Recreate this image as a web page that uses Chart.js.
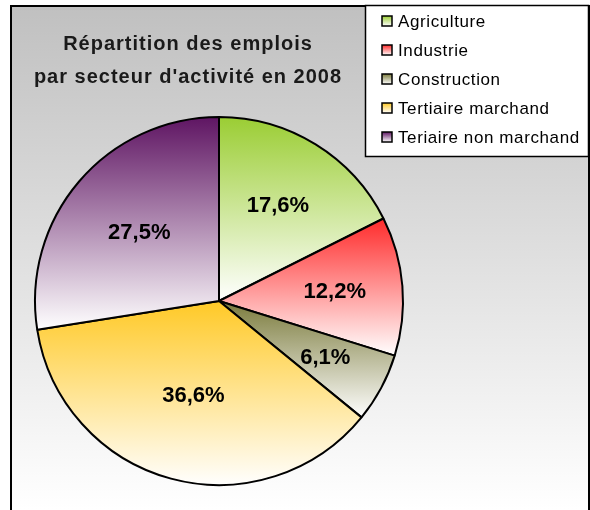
<!DOCTYPE html>
<html>
<head>
<meta charset="utf-8">
<script src="https://cdn.jsdelivr.net/npm/chart.js@4"></script>
<style>
  html, body { margin: 0; padding: 0; background: #fff; }
  canvas { display: block; }
</style>
</head>
<body>
<canvas id="pieChart" width="590" height="510"></canvas>
<script>
const titleLines = ["Répartition des emplois", "par secteur d'activité en 2008"];
const sectors = ["Agriculture", "Industrie", "Construction", "Tertiaire marchand", "Teriaire non marchand"];
const shares = [17.6, 12.2, 6.1, 36.6, 27.5];
const sectorColors = ["#9acd32", "#ff2a2a", "#7b7b3c", "#ffc926", "#5e1462"];

const FONT = "'Liberation Sans', Arial, sans-serif";

// vertical gradient colour -> white over the slice's own height
function sliceGradient(context) {
  const chart = context.chart;
  const area = chart.chartArea;
  const i = context.dataIndex;
  if (!area) return sectorColors[i];
  const cx = (area.left + area.right) / 2;
  const cy = (area.top + area.bottom) / 2;
  const r = Math.min(area.width, area.height) / 2;
  const total = shares.reduce((a, b) => a + b, 0);
  let before = 0;
  for (let k = 0; k < i; k++) before += shares[k];
  const a0 = -Math.PI / 2 + before / total * 2 * Math.PI;
  const a1 = a0 + shares[i] / total * 2 * Math.PI;
  const ys = [cy, cy + r * Math.sin(a0), cy + r * Math.sin(a1)];
  for (const k of [-Math.PI / 2, Math.PI / 2, 3 * Math.PI / 2]) {
    if (k >= a0 && k <= a1) ys.push(cy + r * Math.sin(k));
  }
  const g = chart.ctx.createLinearGradient(0, Math.min(...ys), 0, Math.max(...ys));
  g.addColorStop(0, sectorColors[i]);
  g.addColorStop(1, "#ffffff");
  return g;
}

const framePlugin = {
  id: 'frame',
  beforeDraw(chart) {
    const ctx = chart.ctx;
    ctx.save();
    ctx.fillStyle = "#ffffff";
    ctx.fillRect(0, 0, chart.width, chart.height);
    const bg = ctx.createLinearGradient(0, 6, 0, chart.height);
    bg.addColorStop(0, "#c0c0c0");
    bg.addColorStop(1, "#ffffff");
    ctx.fillStyle = bg;
    ctx.fillRect(10, 6, 579, chart.height);
    ctx.strokeStyle = "#000";
    ctx.lineWidth = 2;
    ctx.strokeRect(11, 6, 578, chart.height + 10);

    // title
    ctx.fillStyle = "#1a1a1a";
    ctx.font = "bold 20px " + FONT;
    ctx.letterSpacing = "1px";
    ctx.textAlign = "center";
    ctx.textBaseline = "middle";
    ctx.fillText(titleLines[0], 188, 44);
    ctx.fillText(titleLines[1], 188, 77);
    ctx.restore();
  },
  afterDatasetsDraw(chart) {
    const ctx = chart.ctx;
    const meta = chart.getDatasetMeta(0);
    ctx.save();
    ctx.fillStyle = "#000";
    ctx.font = "bold 22px " + FONT;
    ctx.textAlign = "center";
    ctx.textBaseline = "middle";
    meta.data.forEach((arc, i) => {
      const p = arc.getProps(['x', 'y', 'startAngle', 'endAngle', 'outerRadius'], true);
      const mid = (p.startAngle + p.endAngle) / 2;
      // bigger slices get their label a bit closer to the centre
      const rr = p.outerRadius * (0.68 - 0.004 * shares[i]);
      const label = shares[i].toFixed(1).replace('.', ',') + '%';
      ctx.fillText(label, p.x + Math.cos(mid) * rr, p.y + Math.sin(mid) * rr);
    });
    ctx.restore();
  },
  afterDraw(chart) {
    const ctx = chart.ctx;
    ctx.save();
    // legend box
    ctx.fillStyle = "#fff";
    ctx.fillRect(365, 5, 224, 152);
    ctx.strokeStyle = "#000";
    ctx.lineWidth = 1.5;
    ctx.strokeRect(365.5, 5.5, 223, 151);
    ctx.font = "17px " + FONT;
    ctx.letterSpacing = "0.6px";
    ctx.textAlign = "left";
    ctx.textBaseline = "middle";
    sectors.forEach((name, i) => {
      const y = 21 + i * 29;
      const g = ctx.createLinearGradient(0, y - 5, 0, y + 5);
      g.addColorStop(0, sectorColors[i]);
      g.addColorStop(1, "#ffffff");
      ctx.fillStyle = g;
      ctx.fillRect(382, y - 5, 10, 10);
      ctx.lineWidth = 1.5;
      ctx.strokeStyle = "#000";
      ctx.strokeRect(382, y - 5, 10, 10);
      ctx.fillStyle = "#000";
      ctx.fillText(name, 398, y + 1);
    });
    ctx.restore();
  }
};

new Chart(document.getElementById('pieChart').getContext('2d'), {
  type: 'pie',
  data: {
    labels: sectors,
    datasets: [{
      data: shares,
      backgroundColor: sliceGradient,
      borderColor: "#000",
      borderWidth: 2
    }]
  },
  options: {
    responsive: false,
    animation: false,
    layout: { padding: { left: 34, right: 186, top: 116, bottom: 24 } },
    plugins: {
      legend: { display: false },
      title: { display: false },
      tooltip: { enabled: false }
    }
  },
  plugins: [framePlugin]
});
</script>
</body>
</html>
